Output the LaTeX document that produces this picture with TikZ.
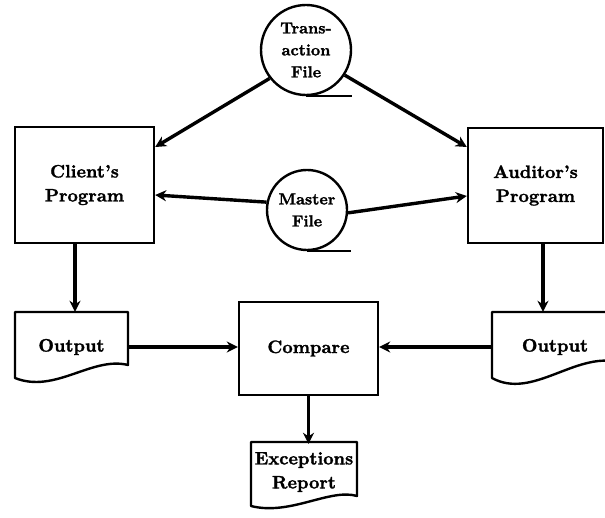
\documentclass[tikz,border=0pt]{standalone}
\usepackage{fontspec}
\newfontfamily\heavy{lmroman10-bold.otf}[FakeBold=1.6,Ligatures=TeX]
\usetikzlibrary{arrows.meta,calc}
\begin{document}
\begin{tikzpicture}[x=1pt,y=-1pt,
  lbl/.style={align=center,inner sep=0pt,font=\fontsize{18}{24}\selectfont\heavy},
  procbox/.style={lbl,draw,line width=2.4pt,rectangle},
  tape/.style={lbl,draw,line width=2.4pt,circle,font=\fontsize{16}{22}\selectfont\heavy},
  doc/.style={lbl,rectangle},
  docline/.style={line width=2.4pt,line join=round},
  flow/.style={line width=3.4pt,-{Stealth[length=11pt,width=11pt]}}
]
\useasboundingbox (0,0) rectangle (605,518);
\clip (0,0) rectangle (605,518);

% storage files
\node[tape,minimum size=90pt] (tf) at (306,50) {Trans-\\action\\File};
\draw[docline] (tf.south) -- ++(46,0);
\node[tape,minimum size=80pt] (mf) at (307,210) {Master\\File};
\draw[docline] (mf.south) -- ++(44,0);

% programs
\node[procbox,minimum width=139pt,minimum height=116pt] (cp) at (84.5,185) {Client’s\\Program};
\node[procbox,minimum width=135pt,minimum height=115pt] (ap) at (535.5,185.5) {Auditor’s\\Program};
\node[procbox,minimum width=139pt,minimum height=93pt] (cmp) at (308.5,348.5) {Compare};

% output documents
\node[doc,minimum width=113pt,minimum height=70pt] (outL) at (71.5,347) {Output};
\draw[docline] (15,312) -- (128,312) -- (128,365)
  .. controls (92,356) and (55,394) .. (15,378) -- cycle;
\node[doc,minimum width=126pt,minimum height=70pt] (outR) at (555,347) {Output};
\draw[docline] (492,312) -- (618,312) -- (618,362)
  .. controls (575,352) and (532,400) .. (492,378) -- cycle;
\node[doc,minimum width=106pt,minimum height=56pt] (exc) at (304,472) {Exceptions\\Report};
\draw[docline] (251,442) -- (357,442) -- (357,496)
  .. controls (330,488) and (290,516) .. (251,506) -- cycle;

% flows
\draw[flow] (tf.218) -- (cp.east |- 0,147);
\draw[flow] (tf.-33) -- (ap.west |- 0,147);
\draw[flow] (mf.169) -- (cp.east |- 0,195);
\draw[flow] (mf.-4) -- (ap.west |- 0,196);
\draw[flow] ([xshift=-9.5pt]cp.south) -- ([xshift=-9.5pt]cp.south |- outL.north);
\draw[flow] ([xshift=7.5pt]ap.south) -- ([xshift=7.5pt]ap.south |- outR.north);
\draw[flow] (outL.east) -- (outL.east -| cmp.west);
\draw[flow] (outR.west) -- (outR.west -| cmp.east);
\draw[flow] (cmp.south) -- (cmp.south |- exc.north);
\end{tikzpicture}
\end{document}
